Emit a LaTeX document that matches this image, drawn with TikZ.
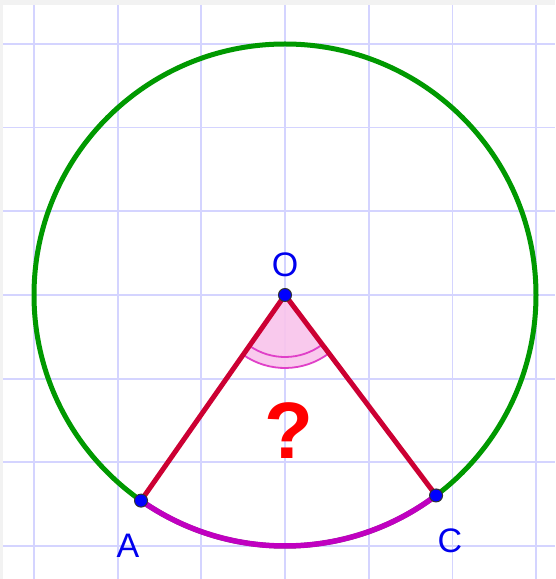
\documentclass[tikz,border=0pt]{standalone}
\usepackage{fontspec}
\setmainfont{Liberation Sans}
\definecolor{bgc}{HTML}{F2F2F2}
\definecolor{gridc}{HTML}{D4D4FF}
\definecolor{circc}{HTML}{009900}
\definecolor{segc}{HTML}{CC0033}
\definecolor{arcc}{HTML}{C000C0}
\definecolor{sectc}{HTML}{F9C4EC}
\definecolor{angc}{HTML}{E040C8}
\definecolor{ptc}{HTML}{0000FF}
\definecolor{labc}{HTML}{0000EE}
\begin{document}
\begin{tikzpicture}[x=1pt,y=1pt,
  gridline/.style={draw=gridc, line width=1.8pt},
  pt/.style={circle, fill=ptc, draw=black!80, line width=1pt, minimum size=13pt, inner sep=0pt},
  lab/.style={text=labc, font=\fontsize{34}{34}\selectfont, inner sep=0pt}]
\useasboundingbox (0,0) rectangle (555,579);
\fill[bgc] (0,0) rectangle (555,579);
\fill[white] (3,0) rectangle (555,574);
\foreach \k in {-3,...,3} {
  \draw[gridline] (285+83.7*\k, 0) -- (285+83.7*\k, 574);
  \draw[gridline] (3, 284+83.7*\k) -- (555, 284+83.7*\k);
}
\coordinate (O) at (285,284);
\coordinate (A) at ([shift={(235:251)}]O);
\coordinate (C) at ([shift={(307:251)}]O);
\fill[sectc, opacity=0.9] (O) -- ([shift={(235:73)}]O) arc (235:307:73) -- cycle;
\draw[angc, line width=1.8pt] ([shift={(235:62)}]O) arc (235:307:62);
\draw[angc, line width=1.8pt] ([shift={(235:73)}]O) arc (235:307:73);
\draw[circc, line width=5pt] (O) circle (251);
\draw[arcc, line width=5.5pt] (A) arc (235:307:251);
\draw[segc, line width=5pt, line join=round] (A) -- (O) -- (C);
\node[pt] (pO) at (O) {};
\node[pt] (pA) at (A) {};
\node[pt] (pC) at (C) {};
\node[lab] (lO) at (285,314) {O};
\node[lab] (lA) at (128,33) {A};
\node[lab] (lC) at (450,38) {C};
\node[text=red, font=\fontsize{80}{80}\selectfont\bfseries, inner sep=0pt] (q) at (289,148) {?};
\end{tikzpicture}
\end{document}
